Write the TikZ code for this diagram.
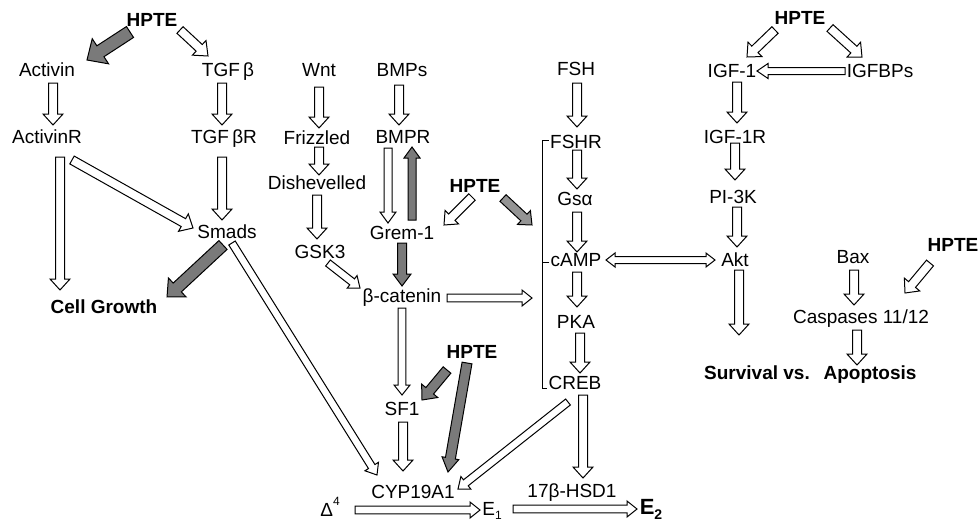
\documentclass[tikz,border=0pt]{standalone}
\usepackage{fontspec}
\setmainfont{Liberation Sans}
\usetikzlibrary{calc}

\tikzset{
  bsw/.store in=\bsw, bhw/.store in=\bhw, bhl/.store in=\bhl,
  barr/.style={draw=black, line width=1pt, line join=miter, fill=white,
               bsw=4.5pt, bhw=10pt, bhl=11pt},
  thin/.style={bsw=3.8pt, bhw=8pt, bhl=10pt},
  grey/.style={fill=black!52},
  lbl/.style={inner sep=0pt, text height=13.6pt, text depth=0pt,
              font=\fontsize{19}{22}\selectfont},
  blbl/.style={lbl, font=\fontsize{19}{22}\selectfont\bfseries},
}

% hollow block arrow from #2 to #3
\newcommand\barrow[3][]{%
  \draw[barr,#1] let \p1=(#2), \p2=(#3),
    \n1={atan2(\y2-\y1,\x2-\x1)}, \n2={veclen(\x2-\x1,\y2-\y1)} in
    [shift={(\p1)}, rotate=\n1]
    (0pt,-\bsw) -- ({\n2-\bhl},-\bsw) -- ({\n2-\bhl},-\bhw) -- ({\n2+0pt},0pt)
    -- ({\n2-\bhl},\bhw) -- ({\n2-\bhl},\bsw) -- (0pt,\bsw) -- cycle;
}
% double-headed block arrow
\newcommand\dbarrow[3][]{%
  \draw[barr,#1] let \p1=(#2), \p2=(#3),
    \n1={atan2(\y2-\y1,\x2-\x1)}, \n2={veclen(\x2-\x1,\y2-\y1)} in
    [shift={(\p1)}, rotate=\n1]
    (0pt,0pt) -- (\bhl,\bhw) -- (\bhl,\bsw) -- ({\n2-\bhl},\bsw) -- ({\n2-\bhl},\bhw)
    -- ({\n2+0pt},0pt) -- ({\n2-\bhl},-\bhw) -- ({\n2-\bhl},-\bsw) -- (\bhl,-\bsw)
    -- (\bhl,-\bhw) -- cycle;
}

\begin{document}
\begin{tikzpicture}[x=1pt,y=-1pt]
\useasboundingbox (0,0) rectangle (979,525);

% ---- labels ----
\node[blbl] (hpteA) at (152,20) {HPTE};
\node[lbl] (activin) at (47,70) {Activin};
\node[lbl] (tgfb) at (228,70) {TGF\,β};
\node[lbl] (activinR) at (47,137) {ActivinR};
\node[lbl] (tgfbR) at (224,137) {TGF\,βR};
\node[lbl] (smads) at (227,232) {Smads};
\node[blbl] (growth) at (104,307) {Cell Growth};

\node[lbl] (wnt) at (319,70) {Wnt};
\node[lbl] (frizzled) at (317,138) {Frizzled};
\node[lbl] (dish) at (317,183) {Dishevelled};
\node[lbl] (gsk) at (320,252) {GSK3};
\node[lbl] (bmps) at (402,70) {BMPs};
\node[lbl] (bmpr) at (403,137) {BMPR};
\node[lbl] (grem) at (402,233) {Grem-1};
\node[blbl] (hpteB) at (475,186) {HPTE};
\node[lbl] (bcat) at (402,296) {β-catenin};
\node[blbl] (hpteC) at (472,352) {HPTE};
\node[lbl] (sf) at (402,409) {SF1};
\node[lbl] (cyp) at (413,492) {CYP19A1};

\node[lbl] (fsh) at (576,69) {FSH};
\node[lbl] (fshr) at (576,142) {FSHR};
\node[lbl] (gsa) at (575,199) {Gsα};
\node[lbl] (camp) at (576,260) {cAMP};
\node[lbl] (pka) at (576,322) {PKA};
\node[lbl] (creb) at (575,383) {CREB};
\node[lbl] (hsd) at (572,491) {17β-HSD1};

\node[lbl] (delta) at (330,510) {Δ\raisebox{1.1ex}{\fontsize{12}{12}\selectfont 4}};
\node[lbl] (eone) at (492,509) {E\raisebox{-0.4ex}{\fontsize{12}{12}\selectfont 1}};
\node[lbl, font=\fontsize{22}{24}\selectfont\bfseries, text height=15.7pt] (etwo) at (651,507)
  {E\raisebox{-0.4ex}{\fontsize{14}{14}\selectfont 2}};

\node[blbl] (hpteD) at (800,18) {HPTE};
\node[lbl] (igf) at (732,71) {IGF-1};
\node[lbl] (igfbp) at (880,71) {IGFBPs};
\node[lbl] (igfr) at (735,137) {IGF-1R};
\node[lbl] (pik) at (733,197) {PI-3K};
\node[lbl] (akt) at (735,260) {Akt};
\node[lbl] (bax) at (853,257) {Bax};
\node[blbl] (hpteE) at (953,245) {HPTE};
\node[lbl] (casp) at (861,317) {Caspases 11/12};
\node[blbl] (surv) at (757,373) {Survival vs.};
\node[blbl] (apop) at (870,373) {Apoptosis};

% ---- bracket grouping the FSH receptor cascade ----
\coordinate (brT) at ($(fshr.west)+(-1,-2)$);
\coordinate (brM) at ($(camp.west)+(-1,2)$);
\coordinate (brB) at ($(creb.west)+(-1,5)$);
\draw[line width=1pt] (brT) -- ++(-6,0) |- (brB);
\draw[line width=1pt] (brM) -- ++(-7,0);

% ---- TGF-beta / activin branch ----
\barrow[grey, bsw=6.5pt, bhw=15pt, bhl=16pt]{$(hpteA)+(-22,12)$}{$(activin)+(40,-10)$}
\barrow[bsw=4.5pt, bhw=10pt, bhl=12pt]{$(hpteA)+(28,10)$}{$(tgfb)+(-20,-14)$}
\barrow{$(activin)+(6,13)$}{$(activinR)+(6,-12)$}
\barrow{$(tgfb)+(-6,13)$}{$(tgfbR)+(-2,-12)$}
\barrow{$(activinR)+(13,20)$}{$(growth)+(-44,-17)$}
\barrow{$(activinR)+(25,23)$}{$(smads)+(-34,-4)$}
\barrow{$(tgfbR)+(-2,20)$}{$(smads)+(-5,-12)$}
\barrow[grey, bsw=6pt, bhw=13pt, bhl=14pt]{$(smads)+(-4,13)$}{$(growth)+(63,-10)$}
\barrow[thin]{$(smads)+(5,11)$}{$(cyp)+(-36,-17)$}

% ---- Wnt / BMP branch ----
\barrow{$(wnt)+(0,17)$}{$(frizzled)+(2,-10)$}
\barrow{$(frizzled)+(2,9)$}{$(dish)+(2,-8)$}
\barrow{$(dish)+(0,12)$}{$(gsk)+(-3,-13)$}
\barrow[thin]{$(gsk)+(8,11)$}{$(bcat)+(-42,-8)$}
\barrow{$(bmps)+(-3,15)$}{$(bmpr)+(-4,-12)$}
\barrow[bsw=4pt, bhw=8pt, bhl=11pt]{$(bmpr)+(-15,11)$}{$(grem)+(-14,-10)$}
\barrow[grey, bsw=4pt, bhw=8pt, bhl=11pt]{$(grem)+(10,-13)$}{$(bmpr)+(9,10)$}
\barrow[grey, bsw=4.5pt, bhw=9pt, bhl=12pt]{$(grem)+(0,10)$}{$(bcat)+(0,-10)$}
\barrow[bsw=4.5pt, bhw=9.5pt, bhl=11pt]{$(hpteB)+(-3,11)$}{$(grem)+(42,-8)$}
\barrow[grey, fill=black!42, bsw=4.5pt, bhw=9.5pt, bhl=11pt]{$(hpteB)+(28,12)$}{$(camp)+(-44,-35)$}
\barrow[thin]{$(bcat)+(45,2)$}{$(camp)+(-44,38)$}
\barrow[thin]{$(bcat)+(0,12)$}{$(sf)+(0,-14)$}
\barrow[grey, bsw=5pt, bhw=10.5pt, bhl=12pt]{$(hpteC)+(-25,18)$}{$(sf)+(20,-9)$}
\barrow[grey, bsw=5pt, bhw=8.5pt, bhl=14pt]{$(hpteC)+(-5,11)$}{$(cyp)+(35,-20)$}
\barrow{$(sf)+(1,13)$}{$(cyp)+(-10,-21)$}

% ---- FSH receptor cascade ----
\barrow{$(fsh)+(1,14)$}{$(fshr)+(1,-15)$}
\barrow{$(fshr)+(1,8)$}{$(gsa)+(2,-10)$}
\barrow{$(gsa)+(2,13)$}{$(camp)+(1,-8)$}
\barrow{$(camp)+(1,12)$}{$(pka)+(1,-15)$}
\barrow{$(pka)+(4,11)$}{$(creb)+(5,-10)$}
\barrow[thin]{$(creb)+(-7,19)$}{$(cyp)+(45,-3)$}
\barrow{$(creb)+(8,12)$}{$(hsd)+(11,-13)$}
\dbarrow[bsw=3.5pt, bhw=7pt, bhl=9pt]{$(camp)+(30,0)$}{$(akt)+(-20,0)$}

% ---- steroid conversion ----
\barrow[thin]{$(delta)+(25,0)$}{$(eone)+(-12,1)$}
\barrow[thin]{$(eone)+(21,0)$}{$(etwo)+(-14,2)$}

% ---- IGF branch ----
\barrow{$(hpteD)+(-25,12)$}{$(igf)+(15,-14)$}
\barrow{$(hpteD)+(30,10)$}{$(igfbp)+(-18,-14)$}
\barrow[bsw=3.5pt, bhw=7.5pt, bhl=11pt]{$(igfbp)+(-35,0)$}{$(igf)+(25,0)$}
\barrow{$(igf)+(5,11)$}{$(igfr)+(2,-14)$}
\barrow{$(igfr)+(0,6)$}{$(pik)+(2,-17)$}
\barrow{$(pik)+(4,10)$}{$(akt)+(2,-13)$}
\barrow{$(akt)+(4,10)$}{$(surv)+(-18,-38)$}

% ---- apoptosis ----
\barrow{$(bax)+(1,13)$}{$(casp)+(-7,-12)$}
\barrow{$(casp)+(-4,13)$}{$(apop)+(-13,-8)$}
\barrow{$(hpteE)+(-23,18)$}{$(casp)+(44,-24)$}
\end{tikzpicture}
\end{document}
